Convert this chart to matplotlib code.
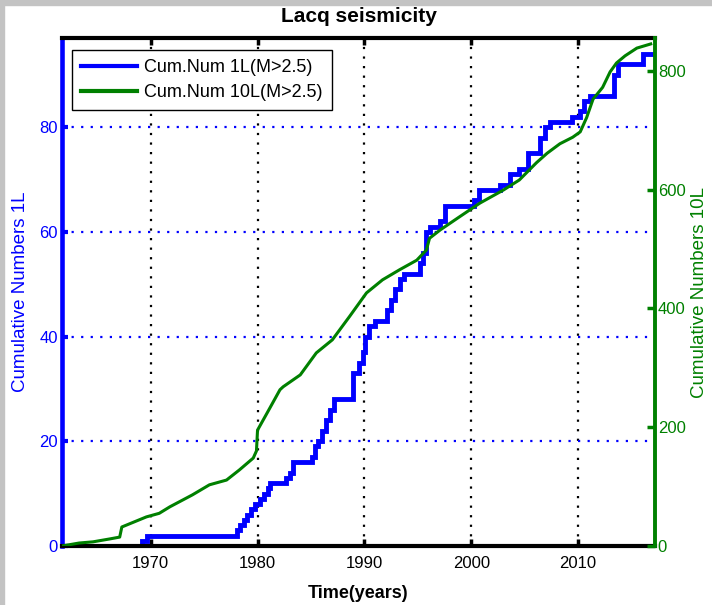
import matplotlib
matplotlib.use("Agg")
import matplotlib.pyplot as plt
from matplotlib.lines import Line2D
from matplotlib.patches import Rectangle

plt.rcParams["font.family"] = ["Liberation Sans", "DejaVu Sans"]

# Cumulative count of events in the 1L catalogue (step changes: year, count after the event)
years_1L = [1961.7, 1969.2, 1969.7, 1978.1, 1978.4, 1978.7, 1979.0, 1979.4, 1979.8,
            1980.2, 1980.6, 1981.0, 1981.2, 1982.7, 1983.0, 1983.3, 1985.1, 1985.4,
            1985.7, 1986.0, 1986.4, 1986.8, 1987.2, 1988.9, 1989.5, 1989.9, 1990.1,
            1990.4, 1991.0, 1992.1, 1992.5, 1992.9, 1993.3, 1993.7, 1995.2, 1995.5,
            1995.8, 1996.1, 1997.1, 1997.5, 2000.3, 2000.7, 2002.7, 2003.6, 2004.5,
            2005.3, 2006.4, 2006.9, 2007.4, 2009.4, 2010.2, 2010.6, 2011.1, 2013.4,
            2013.7, 2016.1, 2016.9]
counts_1L = [0, 1, 2, 3, 4, 5, 6, 7, 8,
             9, 10, 11, 12, 13, 14, 16, 17, 19,
             20, 22, 24, 26, 28, 33, 35, 37, 40,
             42, 43, 45, 47, 49, 51, 52, 54, 56,
             60, 61, 62, 65, 66, 68, 69, 71, 72,
             75, 78, 80, 81, 82, 83, 85, 86, 90,
             92, 94, 94]

# Cumulative count of events in the 10L catalogue
years_10L = [1961.7, 1963.3, 1964.6, 1966.2, 1967.1, 1967.3, 1969.6, 1970.8, 1971.8,
             1973.9, 1975.5, 1977.1, 1978.3, 1979.6, 1979.9, 1980.0, 1980.9, 1982.1,
             1982.4, 1984.0, 1985.5, 1987.0, 1988.6, 1990.2, 1991.7, 1993.3, 1994.9,
             1995.8, 1996.1, 1997.1, 1998.9, 2000.8, 2003.0, 2004.5, 2006.1, 2007.1,
             2008.3, 2009.5, 2010.2, 2010.8, 2011.4, 2012.3, 2013.0, 2013.6, 2014.4,
             2015.5, 2016.8]
counts_10L = [0, 5, 7, 12, 15, 32, 49, 55, 66,
              86, 103, 111, 128, 148, 160, 195, 224, 263,
              268, 288, 325, 347, 386, 426, 448, 465, 481,
              498, 518, 532, 554, 577, 599, 616, 645, 661,
              677, 688, 697, 721, 752, 772, 798, 813, 825,
              838, 845]

x_ticks = [1970, 1980, 1990, 2000, 2010]
left_ticks = [0, 20, 40, 60, 80]
right_ticks = [0, 200, 400, 600, 800]

BLUE = "#0000ff"
GREEN = "#008000"

W, H = 712, 605
fig = plt.figure(figsize=(W / 100, H / 100), dpi=100)
fig.patch.set_facecolor("white")
# window frame strips
fig.add_artist(Rectangle((0, 0), 4 / W, 1, transform=fig.transFigure,
                         color="#c3c3c3", zorder=0))
fig.add_artist(Rectangle((0, 1 - 5 / H), 1, 5 / H, transform=fig.transFigure,
                         color="#c3c3c3", zorder=0))

ax1 = fig.add_axes([62 / W, 59 / H, 593 / W, 508 / H])
ax1.step(years_1L, counts_1L, where="post", color=BLUE, lw=3.5,
         solid_joinstyle="miter", zorder=2)
ax1.set_xlim(1961.7, 2017.2)
ax1.set_ylim(0, 97)
ax1.set_xticks(x_ticks)
ax1.set_xticklabels([str(t) for t in x_ticks])
ax1.set_yticks(left_ticks)

ax1.grid(axis="x", color="black", linestyle=(0, (1, 3.3)), lw=1.6)
ax1.grid(axis="y", color=BLUE, linestyle=(0, (1, 3.3)), lw=1.6)

ax1.tick_params(axis="x", direction="in", length=5, width=2.5, color="black",
                top=True, labelsize=12, pad=7, labelcolor="black")
ax1.tick_params(axis="y", direction="in", length=4, width=3, color=BLUE,
                right=True, labelsize=12, pad=3, labelcolor=BLUE)

for side in ("top", "bottom"):
    ax1.spines[side].set_color("black")
    ax1.spines[side].set_linewidth(3)
ax1.spines["left"].set_color(BLUE)
ax1.spines["left"].set_linewidth(3.3)
ax1.spines["right"].set_visible(False)

ax1.set_xlabel("Time(years)", fontsize=13, fontweight="bold")
ax1.xaxis.set_label_coords(0.5, (546 - 585) / 508)
ax1.set_ylabel("Cumulative Numbers 1L", fontsize=13.5, color=BLUE)
ax1.yaxis.set_label_coords((29 - 62) / 593, 0.5)

ax2 = ax1.twinx()
ax2.plot(years_10L, counts_10L, color=GREEN, lw=2.2, zorder=3)
ax2.set_ylim(0, 855)
ax2.set_yticks(right_ticks)
ax2.tick_params(axis="y", direction="in", length=6, width=2.5, color=GREEN,
                labelsize=12, pad=2, labelcolor=GREEN)
ax2.spines["right"].set_color(GREEN)
ax2.spines["right"].set_linewidth(2.8)
for side in ("left", "top", "bottom"):
    ax2.spines[side].set_visible(False)
ax2.set_ylabel("Cumulative Numbers 10L", fontsize=13.5, color=GREEN, rotation=90)
ax2.yaxis.set_label_coords((691 - 62) / 593, 0.5)

handles = [Line2D([], [], color=BLUE, lw=3),
           Line2D([], [], color=GREEN, lw=3)]
leg = ax2.legend(handles, ["Cum.Num 1L(M>2.5)", "Cum.Num 10L(M>2.5)"],
                 loc="upper left", bbox_to_anchor=(10 / 593, 1 - 12 / 508),
                 borderaxespad=0, fontsize=13, handlelength=3.1,
                 handletextpad=0.4, fancybox=False, framealpha=1,
                 edgecolor="black", borderpad=0.5, labelspacing=0.45)
leg.get_frame().set_linewidth(1.0)

fig.text((62 + 655) / 2 / W, 1 - 17 / H, "Lacq seismicity", ha="center",
         va="center", fontsize=15, fontweight="bold")

fig.savefig("out.png", dpi=100)
